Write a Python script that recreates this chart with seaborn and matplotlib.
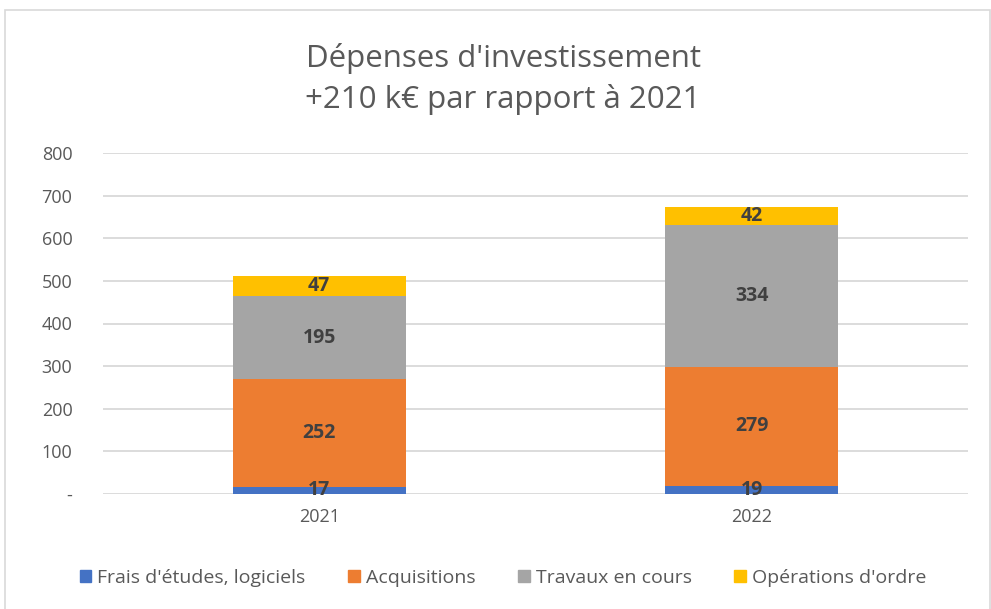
import matplotlib
import matplotlib.pyplot as plt
import numpy as np
import pandas as pd
import seaborn as sns
from matplotlib.patches import Rectangle

matplotlib.use("Agg")

years = ["2021", "2022"]
series = ["Frais d'études, logiciels", "Acquisitions", "Travaux en cours", "Opérations d'ordre"]
frais = [17, 19]
acquisitions = [252, 279]
travaux = [195, 334]
operations = [47, 42]
colors = ["#4472c4", "#ed7d31", "#a5a5a5", "#ffc000"]
title = "Dépenses d'investissement\n+210 k€ par rapport à 2021"
yticks = [0, 100, 200, 300, 400, 500, 600, 700, 800]
ytick_labels = ["-", "100", "200", "300", "400", "500", "600", "700", "800"]

values = np.array([frais, acquisitions, travaux, operations])
cum = values.cumsum(axis=0)

sns.set_theme(style="white")
plt.rcParams["font.family"] = ["Open Sans", "DejaVu Sans"]

fig = plt.figure(figsize=(9.91, 6.09), dpi=100)
fig.patches.append(Rectangle((5 / 991, -0.01), 985 / 991, 1 - 10 / 609 + 0.01,
                             transform=fig.transFigure, fill=False,
                             edgecolor="#d9d9d9", linewidth=1.2))
ax = fig.add_axes([103 / 991, 1 - 494 / 609, 865 / 991, 341 / 609])

# draw cumulative totals from top to bottom so each layer shows its segment
for i in range(len(series) - 1, -1, -1):
    df = pd.DataFrame({"year": years, "total": cum[i]})
    sns.barplot(data=df, x="year", y="total", color=colors[i], width=0.4,
                saturation=1, linewidth=0, ax=ax, zorder=2)

for j in range(len(years)):
    for i in range(len(series)):
        mid = cum[i, j] - values[i, j] / 2
        ax.text(j, mid, str(values[i, j]), ha="center", va="center",
                fontsize=14, fontweight="bold", color="#404040", zorder=3)

ax.set_ylim(0, 800)
ax.set_xlim(-0.5, 1.5)
ax.set_yticks(yticks)
ax.set_yticklabels(ytick_labels)
ax.yaxis.grid(True, color="#d9d9d9", linewidth=1.3, zorder=0)
ax.set_axisbelow(True)
for s in ax.spines.values():
    s.set_visible(False)
ax.tick_params(axis="both", length=0, labelsize=13, labelcolor="#595959")
ax.tick_params(axis="y", pad=22)
ax.tick_params(axis="x", pad=10)
ax.set_xlabel("")
ax.set_ylabel("")

fig.text(503 / 991, 1 - 79 / 609, title, ha="center", va="center",
         fontsize=22.5, color="#595959", linespacing=1.45)

handles = [Rectangle((0, 0), 1, 1, color=c) for c in colors]
fig.legend(handles, series, loc="center", bbox_to_anchor=(503 / 991, 1 - 578 / 609),
           ncol=4, frameon=False, fontsize=14, labelcolor="#595959",
           handlelength=0.6, handleheight=0.6, handletextpad=0.3, columnspacing=2.2)

fig.savefig("out.png", dpi=100)
